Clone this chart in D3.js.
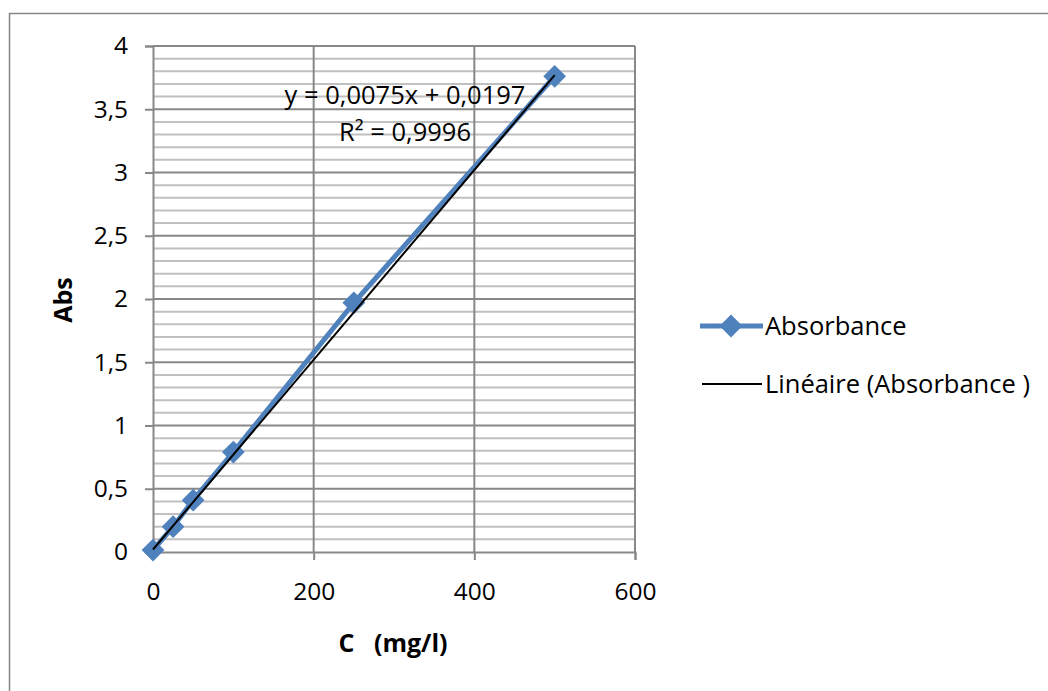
<!DOCTYPE html>
<html>
<head>
<meta charset="utf-8">
<script src="https://cdn.jsdelivr.net/npm/d3@7"></script>
<style>
  body { margin: 0; background: #fff; }
  svg { display: block; font-family: "Open Sans", Lato, sans-serif; }
</style>
</head>
<body>
<div id="container"></div>
<script>
// Data
const concentrations = [0, 25, 50, 100, 250, 500];
const absorbances = [0.015, 0.2, 0.41, 0.79, 1.97, 3.76];
const xTicks = [0, 200, 400, 600];
const yTicks = [0, 0.5, 1, 1.5, 2, 2.5, 3, 3.5, 4];
const yMinorTicks = d3.range(0, 41).map(d => d / 10);
const trendSlope = 0.0075;
const trendIntercept = 0.0197;
const trendLabels = ['y = 0,0075x + 0,0197', 'R² = 0,9996'];
const legendLabels = ['Absorbance', 'Linéaire (Absorbance )'];

const W = 1048, H = 691;
const svg = d3.select('#container').append('svg')
  .attr('width', W)
  .attr('height', H);

// Chart frame
svg.append('rect')
  .attr('x', 9.5).attr('y', 13.5)
  .attr('width', W + 20).attr('height', H + 20)
  .attr('fill', 'none').attr('stroke', '#868686').attr('stroke-width', 1.5);

// Scales
const x = d3.scaleLinear().domain([0, 600]).range([153, 635]);
const y = d3.scaleLinear().domain([0, 4]).range([552, 46]);
const fmt = d => String(d).replace('.', ',');

// Minor horizontal grid
svg.append('g').selectAll('line')
  .data(yMinorTicks.filter(d => Math.round(d * 10) % 5 !== 0))
  .join('line')
  .attr('x1', x(0)).attr('x2', x(600))
  .attr('y1', d => y(d)).attr('y2', d => y(d))
  .attr('stroke', '#c0c0c0').attr('stroke-width', 2);

// Major horizontal grid
svg.append('g').selectAll('line')
  .data(yTicks.filter(d => d > 0))
  .join('line')
  .attr('x1', x(0)).attr('x2', x(600))
  .attr('y1', d => y(d)).attr('y2', d => y(d))
  .attr('stroke', '#888').attr('stroke-width', 2);

// Vertical grid
svg.append('g').selectAll('line')
  .data(xTicks.filter(d => d > 0))
  .join('line')
  .attr('x1', d => x(d)).attr('x2', d => x(d))
  .attr('y1', y(0)).attr('y2', y(4))
  .attr('stroke', '#888').attr('stroke-width', 2);

// Axes
const xAxis = svg.append('g')
  .attr('transform', `translate(0,${y(0)})`)
  .call(d3.axisBottom(x).tickValues(xTicks).tickSize(8).tickPadding(23).tickFormat(fmt));
const yAxis = svg.append('g')
  .attr('transform', `translate(${x(0)},0)`)
  .call(d3.axisLeft(y).tickValues(yTicks).tickSize(8).tickPadding(17).tickFormat(fmt));

[xAxis, yAxis].forEach(g => {
  g.select('.domain').attr('stroke', '#888').attr('stroke-width', 2);
  g.selectAll('.tick line').attr('stroke', '#888').attr('stroke-width', 2);
  g.selectAll('text')
    .attr('font-family', '"Open Sans", Lato, sans-serif')
    .attr('font-size', 24.5).attr('fill', '#000');
});
xAxis.selectAll('text').attr('dy', '0.71em');

// Axis titles
svg.append('text')
  .attr('x', 393).attr('y', 652)
  .attr('text-anchor', 'middle')
  .attr('font-size', 25).attr('font-weight', 'bold')
  .attr('xml:space', 'preserve')
  .text('C   (mg/l)');
svg.append('text')
  .attr('transform', 'translate(72,300) rotate(-90)')
  .attr('text-anchor', 'middle')
  .attr('font-size', 25).attr('font-weight', 'bold')
  .text('Abs');

// Series line
const points = concentrations.map((c, i) => [c, absorbances[i]]);
svg.append('path')
  .datum(points)
  .attr('fill', 'none')
  .attr('stroke', '#4f81bd').attr('stroke-width', 5)
  .attr('d', d3.line().x(d => x(d[0])).y(d => y(d[1])));

// Diamond markers
const diamond = d3.symbol().type(d3.symbolDiamond2).size(330);
svg.append('g').selectAll('path')
  .data(points)
  .join('path')
  .attr('transform', d => `translate(${x(d[0])},${y(d[1])})`)
  .attr('d', diamond)
  .attr('fill', '#4f81bd');

// Linear trendline
const xExtent = d3.extent(concentrations);
svg.append('line')
  .attr('x1', x(xExtent[0])).attr('y1', y(trendIntercept + trendSlope * xExtent[0]))
  .attr('x2', x(xExtent[1])).attr('y2', y(trendIntercept + trendSlope * xExtent[1]))
  .attr('stroke', '#000').attr('stroke-width', 2);

// Equation label
svg.append('g').selectAll('text')
  .data(trendLabels)
  .join('text')
  .attr('x', 405)
  .attr('y', (d, i) => 104 + i * 37)
  .attr('text-anchor', 'middle')
  .attr('font-size', 25.5)
  .text(d => d);

// Legend
const legend = svg.append('g').attr('transform', 'translate(700,326)');
legend.append('line')
  .attr('x1', 0).attr('x2', 63).attr('y1', 0).attr('y2', 0)
  .attr('stroke', '#4f81bd').attr('stroke-width', 5);
legend.append('path')
  .attr('transform', 'translate(31,0)')
  .attr('d', diamond)
  .attr('fill', '#4f81bd');
legend.append('line')
  .attr('x1', 2).attr('x2', 62).attr('y1', 58).attr('y2', 58)
  .attr('stroke', '#000').attr('stroke-width', 2);
legend.selectAll('text')
  .data(legendLabels)
  .join('text')
  .attr('x', 65)
  .attr('y', (d, i) => i * 58)
  .attr('dy', '0.35em')
  .attr('font-size', 25.5)
  .text(d => d);
</script>
</body>
</html>
